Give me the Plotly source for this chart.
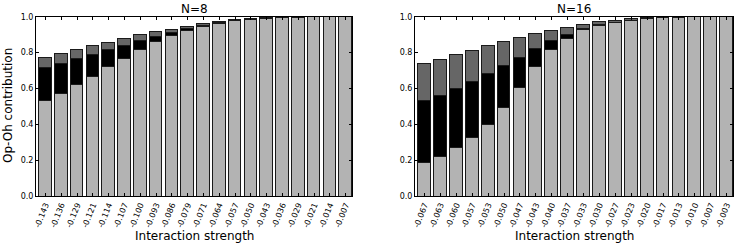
import plotly.graph_objects as go

W, H = 739, 247

labels_n8 = ["-0.143", "-0.136", "-0.129", "-0.121", "-0.114", "-0.107", "-0.100", "-0.093", "-0.086", "-0.079",
             "-0.071", "-0.064", "-0.057", "-0.050", "-0.043", "-0.036", "-0.029", "-0.021", "-0.014", "-0.007"]
labels_n16 = ["-0.067", "-0.063", "-0.060", "-0.057", "-0.053", "-0.050", "-0.047", "-0.043", "-0.040", "-0.037",
              "-0.033", "-0.030", "-0.027", "-0.023", "-0.020", "-0.017", "-0.013", "-0.010", "-0.007", "-0.003"]

# N=8 stacked segments (bottom light gray, middle black, top dark gray)
n8_light = [0.533, 0.572, 0.619, 0.667, 0.719, 0.768, 0.816, 0.859, 0.892, 0.922,
            0.944, 0.962, 0.976, 0.985, 0.991, 0.995, 0.997, 0.999, 1.0, 1.0]
n8_black = [0.183, 0.168, 0.145, 0.121, 0.095, 0.070, 0.048, 0.029, 0.021, 0.013,
            0.008, 0.006, 0.002, 0.002, 0.001, 0.001, 0.001, 0.0, 0.0, 0.0]
n8_dark = [0.055, 0.054, 0.050, 0.048, 0.043, 0.039, 0.034, 0.026, 0.016, 0.009,
           0.009, 0.004, 0.003, 0.002, 0.002, 0.001, 0.001, 0.001, 0.0, 0.0]

# N=16 stacked segments
n16_light = [0.188, 0.223, 0.268, 0.327, 0.400, 0.496, 0.606, 0.719, 0.814, 0.879,
             0.926, 0.952, 0.967, 0.978, 0.987, 0.994, 0.997, 0.999, 1.0, 1.0]
n16_black = [0.342, 0.338, 0.331, 0.311, 0.280, 0.229, 0.167, 0.101, 0.050, 0.022,
             0.009, 0.004, 0.002, 0.001, 0.001, 0.001, 0.0, 0.0, 0.0, 0.0]
n16_dark = [0.210, 0.201, 0.187, 0.174, 0.156, 0.137, 0.112, 0.087, 0.060, 0.040,
            0.022, 0.014, 0.011, 0.008, 0.005, 0.003, 0.002, 0.001, 0.0, 0.0]

C_LIGHT = "#b3b3b3"
C_BLACK = "#000000"
C_DARK = "#666666"
EDGE = "#1a1a1a"
FONT = "DejaVu Sans"

fig = go.Figure()

panels = [
    ("x", "y", labels_n8, [n8_light, n8_black, n8_dark]),
    ("x2", "y2", labels_n16, [n16_light, n16_black, n16_dark]),
]
for xa, ya, labs, segs in panels:
    xs = list(range(len(labs)))
    for vals, col in zip(segs, [C_LIGHT, C_BLACK, C_DARK]):
        fig.add_trace(go.Bar(
            x=xs, y=vals, xaxis=xa, yaxis=ya, width=0.8,
            marker=dict(color=col, line=dict(color=EDGE, width=1)),
            showlegend=False, hoverinfo="skip",
        ))

def xax(dom, labs):
    return dict(domain=dom, range=[-0.6, len(labs) - 0.6], tickmode="array",
                tickvals=list(range(len(labs))), ticktext=labs, tickangle=-68,
                ticks="inside", ticklen=3, tickcolor="black", mirror="allticks",
                showline=True, linecolor="black", linewidth=1, showgrid=False,
                zeroline=False, automargin=False,
                tickfont=dict(family=FONT, size=8, color="black"))

def yax(anchor):
    return dict(domain=[0.2053, 0.9324], range=[0, 1], anchor=anchor,
                tickvals=[0, 0.2, 0.4, 0.6, 0.8, 1.0],
                ticktext=["0.0", "0.2", "0.4", "0.6", "0.8", "1.0"],
                ticks="inside", ticklen=3, tickcolor="black", mirror="allticks",
                showline=True, linecolor="black", linewidth=1, showgrid=False,
                zeroline=False, automargin=False,
                tickfont=dict(family=FONT, size=8, color="black"))

xd1 = [36 / W, 352 / W]
xd2 = [415 / W, 733 / W]

fig.update_layout(
    width=W, height=H, margin=dict(l=0, r=0, t=0, b=0, autoexpand=False),
    paper_bgcolor="white", plot_bgcolor="white",
    barmode="stack", bargap=0,
    xaxis=dict(xax(xd1, labels_n8), anchor="y"),
    yaxis=yax("x"),
    xaxis2=dict(xax(xd2, labels_n16), anchor="y2"),
    yaxis2=yax("x2"),
    font=dict(family=FONT, color="black"),
    annotations=[
        dict(text="N=8", x=(xd1[0] + xd1[1]) / 2, y=1 - 9 / H, xref="paper", yref="paper",
             showarrow=False, font=dict(size=12), xanchor="center", yanchor="middle"),
        dict(text="N=16", x=(xd2[0] + xd2[1]) / 2, y=1 - 9 / H, xref="paper", yref="paper",
             showarrow=False, font=dict(size=12), xanchor="center", yanchor="middle"),
        dict(text="Interaction strength", x=(xd1[0] + xd1[1]) / 2, y=1 - 236 / H, xref="paper", yref="paper",
             showarrow=False, font=dict(size=12), xanchor="center", yanchor="middle"),
        dict(text="Interaction strength", x=(xd2[0] + xd2[1]) / 2, y=1 - 236 / H, xref="paper", yref="paper",
             showarrow=False, font=dict(size=12), xanchor="center", yanchor="middle"),
        dict(text="Op-Oh contribution", x=8 / W, y=1 - 106 / H, xref="paper", yref="paper",
             showarrow=False, font=dict(size=12), textangle=-90, xanchor="center", yanchor="middle"),
    ],
)

fig.write_html("out.html", config={"displayModeBar": False},
               post_script="document.body.style.margin='0';document.body.style.padding='0';document.body.style.overflow='hidden';")
